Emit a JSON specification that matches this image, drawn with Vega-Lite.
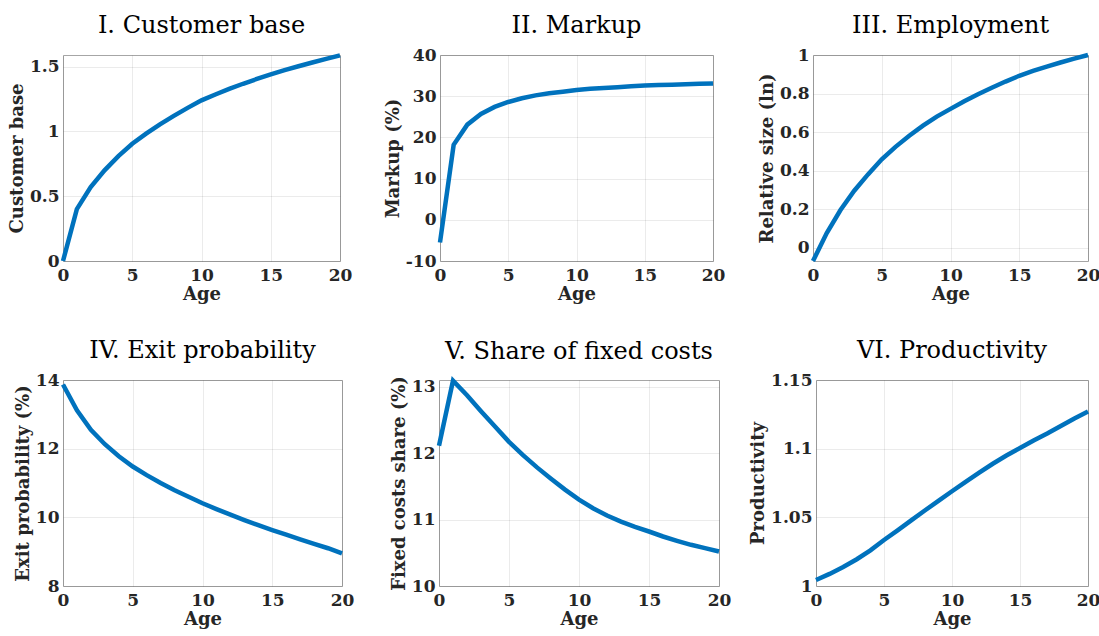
{
  "$schema": "https://vega.github.io/schema/vega-lite/v6.json",
  "padding": {"left": 7, "top": 13, "right": 0, "bottom": 0},
  "data": {"values": [
    {"age": 0, "cb": 0.0, "mk": -5.5, "emp": -0.07, "exit": 13.87, "fc": 12.11, "prod": 1.0044},
    {"age": 1, "cb": 0.40, "mk": 18.2, "emp": 0.075, "exit": 13.12, "fc": 13.09, "prod": 1.0088},
    {"age": 2, "cb": 0.57, "mk": 23.1, "emp": 0.195, "exit": 12.55, "fc": 12.87, "prod": 1.0138},
    {"age": 3, "cb": 0.70, "mk": 25.7, "emp": 0.295, "exit": 12.13, "fc": 12.63, "prod": 1.0195},
    {"age": 4, "cb": 0.81, "mk": 27.4, "emp": 0.38, "exit": 11.78, "fc": 12.40, "prod": 1.026},
    {"age": 5, "cb": 0.905, "mk": 28.6, "emp": 0.458, "exit": 11.48, "fc": 12.17, "prod": 1.0335},
    {"age": 6, "cb": 0.983, "mk": 29.5, "emp": 0.523, "exit": 11.23, "fc": 11.97, "prod": 1.0405},
    {"age": 7, "cb": 1.055, "mk": 30.2, "emp": 0.581, "exit": 11.0, "fc": 11.785, "prod": 1.0478},
    {"age": 8, "cb": 1.12, "mk": 30.7, "emp": 0.633, "exit": 10.79, "fc": 11.615, "prod": 1.055},
    {"age": 9, "cb": 1.182, "mk": 31.1, "emp": 0.68, "exit": 10.6, "fc": 11.45, "prod": 1.062},
    {"age": 10, "cb": 1.24, "mk": 31.5, "emp": 0.72, "exit": 10.41, "fc": 11.3, "prod": 1.069},
    {"age": 11, "cb": 1.285, "mk": 31.8, "emp": 0.76, "exit": 10.24, "fc": 11.17, "prod": 1.0758},
    {"age": 12, "cb": 1.328, "mk": 32.0, "emp": 0.796, "exit": 10.08, "fc": 11.06, "prod": 1.0825},
    {"age": 13, "cb": 1.368, "mk": 32.2, "emp": 0.83, "exit": 9.92, "fc": 10.97, "prod": 1.089},
    {"age": 14, "cb": 1.405, "mk": 32.4, "emp": 0.862, "exit": 9.77, "fc": 10.89, "prod": 1.095},
    {"age": 15, "cb": 1.44, "mk": 32.6, "emp": 0.892, "exit": 9.63, "fc": 10.82, "prod": 1.1005},
    {"age": 16, "cb": 1.473, "mk": 32.7, "emp": 0.917, "exit": 9.495, "fc": 10.745, "prod": 1.106},
    {"age": 17, "cb": 1.503, "mk": 32.8, "emp": 0.94, "exit": 9.36, "fc": 10.68, "prod": 1.111},
    {"age": 18, "cb": 1.532, "mk": 32.9, "emp": 0.961, "exit": 9.23, "fc": 10.62, "prod": 1.1165},
    {"age": 19, "cb": 1.56, "mk": 33.0, "emp": 0.981, "exit": 9.1, "fc": 10.57, "prod": 1.122},
    {"age": 20, "cb": 1.587, "mk": 33.1, "emp": 1.0, "exit": 8.95, "fc": 10.52, "prod": 1.127}
  ]},
  "concat": [
    {
      "hconcat": [
        {
          "title": "I. Customer base",
          "width": 277, "height": 206,
          "mark": {"type": "line"},
          "encoding": {
            "x": {"field": "age", "type": "quantitative", "title": "Age", "scale": {"domain": [0, 20], "nice": false}, "axis": {"values": [0, 5, 10, 15, 20]}},
            "y": {"field": "cb", "type": "quantitative", "title": "Customer base", "scale": {"domain": [0, 1.59], "nice": false, "zero": false}, "axis": {"values": [0, 0.5, 1, 1.5], "format": "~r"}}
          }
        },
        {
          "title": "II. Markup",
          "width": 273, "height": 206,
          "mark": {"type": "line"},
          "encoding": {
            "x": {"field": "age", "type": "quantitative", "title": "Age", "scale": {"domain": [0, 20], "nice": false}, "axis": {"values": [0, 5, 10, 15, 20]}},
            "y": {"field": "mk", "type": "quantitative", "title": "Markup (%)", "scale": {"domain": [-10, 40], "nice": false, "zero": false}, "axis": {"values": [-10, 0, 10, 20, 30, 40], "labelExpr": "replace(datum.label, '\u2212', '-')", "format": "~r"}}
          }
        },
        {
          "title": "III. Employment",
          "width": 275, "height": 206,
          "mark": {"type": "line"},
          "encoding": {
            "x": {"field": "age", "type": "quantitative", "title": "Age", "scale": {"domain": [0, 20], "nice": false}, "axis": {"values": [0, 5, 10, 15, 20]}},
            "y": {"field": "emp", "type": "quantitative", "title": "Relative size (ln)", "scale": {"domain": [-0.07, 1], "nice": false, "zero": false}, "axis": {"values": [0, 0.2, 0.4, 0.6, 0.8, 1], "format": "~r"}}
          }
        }
      ],
      "spacing": 100,
      "bounds": "flush"
    },
    {
      "hconcat": [
        {
          "title": "IV. Exit probability",
          "width": 279, "height": 206,
          "mark": {"type": "line"},
          "encoding": {
            "x": {"field": "age", "type": "quantitative", "title": "Age", "scale": {"domain": [0, 20], "nice": false}, "axis": {"values": [0, 5, 10, 15, 20]}},
            "y": {"field": "exit", "type": "quantitative", "title": "Exit probability (%)", "scale": {"domain": [8, 14], "nice": false, "zero": false}, "axis": {"values": [8, 10, 12, 14], "format": "~r"}}
          }
        },
        {
          "title": "V. Share of fixed costs",
          "width": 280, "height": 206,
          "mark": {"type": "line"},
          "encoding": {
            "x": {"field": "age", "type": "quantitative", "title": "Age", "scale": {"domain": [0, 20], "nice": false}, "axis": {"values": [0, 5, 10, 15, 20]}},
            "y": {"field": "fc", "type": "quantitative", "title": "Fixed costs share (%)", "scale": {"domain": [10, 13.1], "nice": false, "zero": false}, "axis": {"values": [10, 11, 12, 13], "format": "~r"}}
          }
        },
        {
          "title": "VI. Productivity",
          "width": 272, "height": 206,
          "mark": {"type": "line"},
          "encoding": {
            "x": {"field": "age", "type": "quantitative", "title": "Age", "scale": {"domain": [0, 20], "nice": false}, "axis": {"values": [0, 5, 10, 15, 20]}},
            "y": {"field": "prod", "type": "quantitative", "title": "Productivity", "scale": {"domain": [1, 1.15], "nice": false, "zero": false}, "axis": {"values": [1, 1.05, 1.1, 1.15], "format": "~r"}}
          }
        }
      ],
      "spacing": 97,
      "bounds": "flush"
    }
  ],
  "columns": 1,
  "align": "none",
  "spacing": 34,
  "config": {
    "font": "DejaVu Serif",
    "view": {"stroke": "#a6a6a6", "strokeWidth": 1},
    "axis": {
      "labelFont": "DejaVu Serif", "labelFontWeight": "bold", "labelFontSize": 17, "labelColor": "#262626",
      "titleFont": "DejaVu Serif", "titleFontWeight": "bold", "titleFontSize": 18, "titleColor": "#262626",
      "ticks": false, "domain": false, "gridColor": "#000000", "gridOpacity": 0.08, "gridWidth": 1, "labelPadding": 4, "labelOverlap": false
    },
    "axisX": {"labelPadding": 6, "titlePadding": 2, "labelFlush": false},
    "axisY": {"titlePadding": 3},
    "title": {"font": "DejaVu Serif", "fontSize": 24, "fontWeight": "normal", "color": "#000000", "offset": 8, "anchor": "middle"},
    "line": {"color": "#0072BD", "strokeWidth": 4.5}
  }
}
